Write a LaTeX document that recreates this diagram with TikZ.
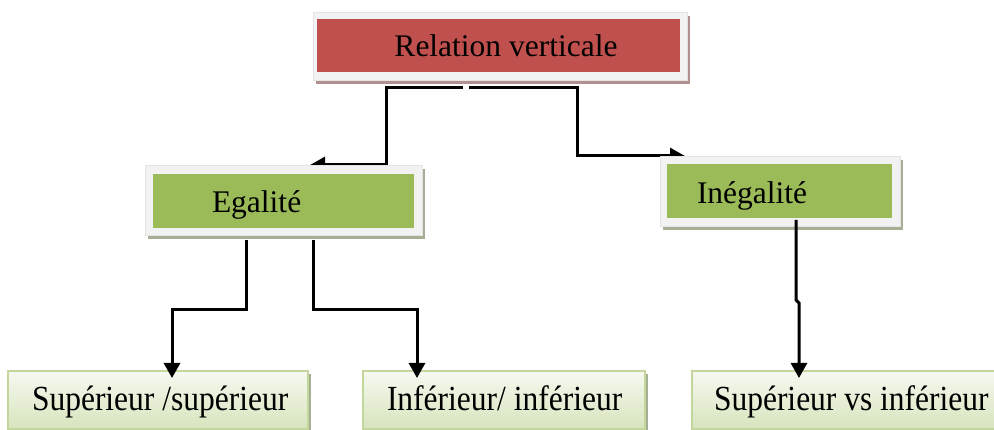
\documentclass[tikz,border=0pt]{standalone}
\usepackage{fontspec}
\setmainfont{Liberation Serif}
\usetikzlibrary{arrows.meta,shadows}
\pgfdeclarelayer{bg}
\pgfdeclarelayer{paper}
\pgfsetlayers{paper,bg,main}
\definecolor{framegray}{HTML}{F2F2F2}
\definecolor{framedraw}{HTML}{E4E4E4}
\definecolor{redfill}{HTML}{C0504D}
\definecolor{redshadow}{HTML}{B39090}
\definecolor{greenfill}{HTML}{9BBB59}
\definecolor{greenshadow}{HTML}{A6AF93}
\definecolor{lightborder}{HTML}{C3D69B}
\definecolor{lighttop}{HTML}{F6F9F0}
\definecolor{lightbottom}{HTML}{D7E4BD}
\newcommand{\tallbox}[1]{\scalebox{1}[1.12]{#1}}
\tikzset{
  frame/.style={draw=framedraw, line width=0.6pt, fill=framegray, anchor=north west, inner sep=0pt, outer sep=0pt},
  inbox/.style={anchor=north west, inner sep=0pt, outer sep=0pt},
  txt/.style={font=\fontsize{31.5}{36}\selectfont, inner sep=0pt, outer sep=0pt},
  leaf/.style={draw=lightborder, line width=1.5pt, top color=lighttop, bottom color=lightbottom, anchor=north west, inner sep=0pt, outer sep=0pt,
     drop shadow={shadow xshift=3pt, shadow yshift=-3pt, fill=greenshadow, opacity=1}},
  conn/.style={line width=3pt, -{Triangle[length=15pt,width=16pt]}, line join=miter},
}
\begin{document}
\begin{tikzpicture}[x=1pt,y=-1pt]
\useasboundingbox (0,0) rectangle (994,430);
\clip (0,0) rectangle (994,430);
\begin{pgfonlayer}{paper}
\fill[white] (0,0) rectangle (994,430);
\end{pgfonlayer}
% top box
\node[frame, drop shadow={shadow xshift=3pt, shadow yshift=-4pt, fill=redshadow, opacity=1}, minimum width=374pt, minimum height=68pt] (topframe) at (313,12) {};
\node[inbox, fill=redfill, minimum width=363pt, minimum height=53pt] (topin) at (317,19) {};
\node[txt, anchor=base] (toptxt) at (506,57) {Relation verticale};
% middle boxes
\node[frame, drop shadow={shadow xshift=3pt, shadow yshift=-4pt, fill=greenshadow, opacity=1}, minimum width=277pt, minimum height=70pt] (egalframe) at (145,165) {};
\node[inbox, fill=greenfill, minimum width=261pt, minimum height=54pt] (egalin) at (153,174) {};
\node[txt, anchor=base west] (egaltxt) at (212,213) {Egalité};
\node[frame, drop shadow={shadow xshift=3pt, shadow yshift=-4pt, fill=greenshadow, opacity=1}, minimum width=240pt, minimum height=70pt] (inegframe) at (660,156) {};
\node[inbox, fill=greenfill, minimum width=225pt, minimum height=54pt] (inegin) at (667,164) {};
\node[txt, anchor=base west] (inegtxt) at (697,204) {Inégalité};
% bottom boxes
\node[leaf, minimum width=300pt, minimum height=58pt] (b1) at (8,371) {};
\node[txt, anchor=base west] (b1txt) at (32,410) {\tallbox{Supérieur /supérieur}};
\node[leaf, minimum width=282pt, minimum height=58pt] (b2) at (363,371) {};
\node[txt, anchor=base west] (b2txt) at (387,410) {\tallbox{Inférieur/ inférieur}};
\node[leaf, minimum width=320pt, minimum height=58pt] (b3) at (692,371) {};
\node[txt, anchor=base west] (b3txt) at (714,410) {\tallbox{Supérieur vs inférieur}};
% column coordinates
\coordinate (s1) at (463,88);
\coordinate (s2) at (469,88);
\coordinate (c1) at (310,0);
\coordinate (c2) at (685,0);
\coordinate (c3) at (246,0);
\coordinate (c4) at (172,0);
\coordinate (c5) at (313,0);
\coordinate (c6) at (417,0);
\coordinate (c7) at (796,0);
\coordinate (c8) at (799,0);
% top connectors (behind boxes)
\begin{pgfonlayer}{bg}
\draw[conn] (s1) -| (386,165) -- (egalframe.north -| c1);
\draw[conn] (s2) -| (577,156) -- (inegframe.north -| c2);
\end{pgfonlayer}
% lower connectors
\draw[conn, shorten <=5pt, shorten >=-7pt] (egalframe.south -| c3) -- (246,310) -| (b1.north -| c4);
\draw[conn, shorten <=5pt, shorten >=-7pt] (egalframe.south -| c5) -- (313,310) -| (b2.north -| c6);
\draw[conn, shorten <=-6pt, shorten >=-7pt] (inegframe.south -| c7) -- (796,300) -- (799,303) -- (b3.north -| c8);
\end{tikzpicture}
\end{document}
